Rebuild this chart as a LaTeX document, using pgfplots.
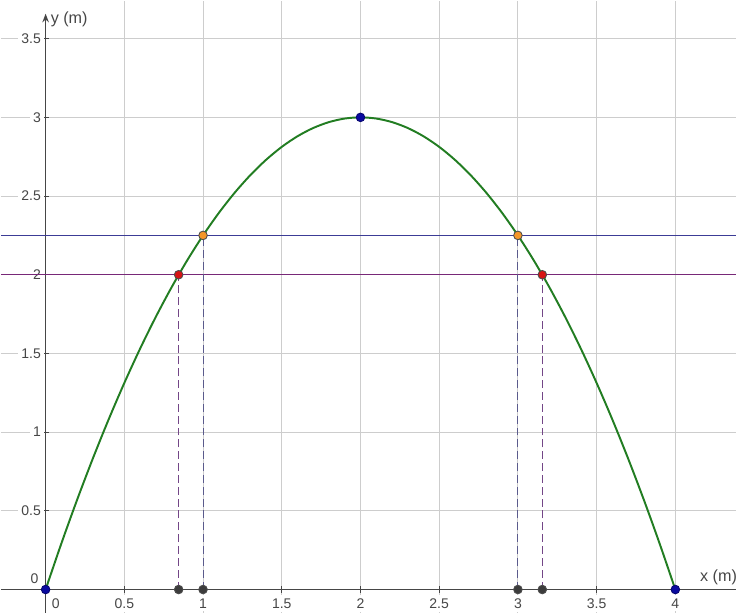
\documentclass[border=0pt]{standalone}
\usepackage{pgfplots}
\pgfplotsset{compat=1.18}
\usepackage{fontspec}
\setmainfont{Liberation Sans}
\usetikzlibrary{arrows.meta}
\definecolor{curvegreen}{RGB}{34,125,34}
\definecolor{navyline}{RGB}{60,60,150}
\definecolor{purpline}{RGB}{120,40,120}
\definecolor{navydash}{RGB}{90,90,140}
\definecolor{purpdash}{RGB}{115,70,135}
\definecolor{ptblue}{RGB}{10,10,160}
\definecolor{ptorange}{RGB}{245,150,40}
\definecolor{ptred}{RGB}{215,20,20}
\definecolor{ptgray}{RGB}{60,60,60}
\definecolor{gridgray}{RGB}{205,205,205}
\definecolor{labgray}{RGB}{70,70,70}
\begin{document}
\begin{tikzpicture}
\begin{axis}[
  scale only axis, width=12cm, height=9.981cm,
  xmin=-0.285, xmax=4.387, ymin=-0.146, ymax=3.741,
  axis lines=middle,
  axis line style={draw=labgray, line width=0.7pt},
  x axis line style={-},
  y axis line style={-{Stealth[length=4pt,width=3pt]}, shorten >=6pt},
  xtick={0.5,1,...,4}, ytick={0.5,1,...,3.5},
  grid=major, major grid style={draw=gridgray, line width=0.4pt},
  tick style={draw=labgray, line width=0.5pt},
  major tick length=3pt,
  /pgf/number format/assume math mode=true,
  ticklabel style={font=\fontsize{6.5}{7}\selectfont, text=labgray, fill=white, inner sep=1.5pt},
  xticklabel style={yshift=-1pt},
  yticklabel style={xshift=1pt},
  clip=false,
]
% horizontal lines
\addplot[navyline, line width=0.5pt] coordinates {(-0.285,2.25) (4.387,2.25)};
\addplot[purpline, line width=0.5pt] coordinates {(-0.285,2) (4.387,2)};
% dashed verticals
\addplot[purpdash, dash pattern=on 3.7pt off 1.8pt, line width=0.5pt] coordinates {(0.845,0) (0.845,2)};
\addplot[purpdash, dash pattern=on 3.7pt off 1.8pt, line width=0.5pt] coordinates {(3.155,0) (3.155,2)};
\addplot[navydash, dash pattern=on 3.7pt off 1.8pt, line width=0.5pt] coordinates {(1,0) (1,2.25)};
\addplot[navydash, dash pattern=on 3.7pt off 1.8pt, line width=0.5pt] coordinates {(3,0) (3,2.25)};
% parabola
\addplot[curvegreen, line width=0.9pt, smooth] coordinates {
(0,0) (0.1,0.2925) (0.2,0.57) (0.3,0.8325) (0.4,1.08) (0.5,1.3125) (0.6,1.53) (0.7,1.7325) (0.8,1.92) (0.9,2.0925)
(1,2.25) (1.1,2.3925) (1.2,2.52) (1.3,2.6325) (1.4,2.73) (1.5,2.8125) (1.6,2.88) (1.7,2.9325) (1.8,2.97) (1.9,2.9925)
(2,3) (2.1,2.9925) (2.2,2.97) (2.3,2.9325) (2.4,2.88) (2.5,2.8125) (2.6,2.73) (2.7,2.6325) (2.8,2.52) (2.9,2.3925)
(3,2.25) (3.1,2.0925) (3.2,1.92) (3.3,1.7325) (3.4,1.53) (3.5,1.3125) (3.6,1.08) (3.7,0.8325) (3.8,0.57) (3.9,0.2925) (4,0)};
% points
\addplot[only marks, mark=*, mark size=2pt, draw=black!70, fill=ptgray] coordinates {(0.845,0) (1,0) (3,0) (3.155,0)};
\addplot[only marks, mark=*, mark size=2pt, draw=ptblue!70!black, fill=ptblue] coordinates {(0,0) (4,0) (2,3)};
\addplot[only marks, mark=*, mark size=2pt, draw=black!70, fill=ptorange] coordinates {(1,2.25) (3,2.25)};
\addplot[only marks, mark=*, mark size=2pt, draw=black!70, fill=ptred] coordinates {(0.845,2) (3.155,2)};
% labels
\node[overlay, font=\fontsize{6.5}{7}\selectfont, text=labgray] at (axis cs:0.065,-0.09) {0};
\node[overlay, font=\fontsize{6.5}{7}\selectfont, text=labgray] at (axis cs:-0.07,0.07) {0};
\node[overlay, inner sep=0pt, font=\fontsize{7.5}{8}\selectfont, text=labgray, anchor=south west] at (axis cs:4.155,0.03) {x (m)};
\node[overlay, inner sep=0pt, font=\fontsize{7.5}{8}\selectfont, text=labgray, anchor=west] at (axis cs:0.03,3.62) {y (m)};
\end{axis}
\end{tikzpicture}
\end{document}
